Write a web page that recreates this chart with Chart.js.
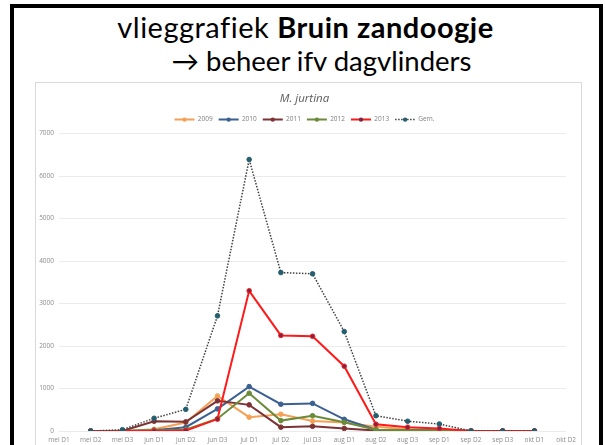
<!DOCTYPE html>
<html>
<head>
<meta charset="utf-8">
<script src="https://cdn.jsdelivr.net/npm/chart.js@4.4.0/dist/chart.umd.min.js"></script>
<style>
  body { margin: 0; background: #fff; width: 605px; height: 445px; overflow: hidden; position: relative; }
  .frame { position: absolute; left: 10px; top: 4px; width: 585px; height: 520px; border: 4px solid #000; border-bottom: none; }
  .line1, .line2 { position: absolute; left: 0; width: 605px; text-align: center; font-family: Lato, sans-serif; color: #000; white-space: nowrap; }
  .line1 { top: 10px; font-size: 29px; line-height: 34px; letter-spacing: 0.5px; padding-left: 3px; }
  .line2 { top: 44px; font-size: 27.5px; line-height: 34px; padding-left: 38px; width: 567px; }
  .box { position: absolute; left: 35px; top: 82px; width: 545px; height: 400px; border: 1px solid #d9d9d9; }
  #chart { position: absolute; left: 36px; top: 83px; }
</style>
</head>
<body>
<div class="frame"></div>
<div class="line1">vlieggrafiek <b>Bruin zandoogje</b></div>
<div class="line2">&rarr; beheer ifv dagvlinders</div>
<div class="box"></div>
<canvas id="chart" width="545" height="362"></canvas>
<script>
const periods = ['mei D1', 'mei D2', 'mei D3', 'jun D1', 'jun D2', 'jun D3', 'jul D1', 'jul D2', 'jul D3',
  'aug D1', 'aug D2', 'aug D3', 'sep D1', 'sep D2', 'sep D3', 'okt D1', 'okt D2'];
const y2009 = [null, 0, 0, 40, 200, 825, 325, 395, 235, 200, 100, 40, 30, 0, 0, 0, null];
const y2010 = [null, 0, 0, 20, 90, 520, 1045, 630, 650, 275, 30, 20, 10, 0, 0, 0, null];
const y2011 = [null, 0, 0, 230, 215, 710, 615, 90, 110, 60, 10, 10, 5, 0, 0, 0, null];
const y2012 = [null, 0, 0, 10, 30, 290, 890, 245, 360, 205, 30, 20, 10, 0, 0, 0, null];
const y2013 = [null, 0, 0, 0, 10, 280, 3300, 2250, 2230, 1525, 160, 90, 60, 0, 0, 0, null];
const gem = [null, 0, 30, 300, 510, 2710, 6390, 3730, 3700, 2340, 360, 230, 165, 0, 0, 0, null];
const yTicks = [0, 1000, 2000, 3000, 4000, 5000, 6000, 7000];

const tickFont = { family: 'Open Sans', size: 6.5 };

function series(label, data, color, dot, order) {
  return {
    label,
    data,
    borderColor: color,
    backgroundColor: color,
    pointBackgroundColor: dot,
    pointBorderColor: color,
    borderWidth: 2,
    pointRadius: 2.3,
    pointBorderWidth: 1,
    tension: 0,
    order,
  };
}

const gemSet = series('Gem.', gem, '#404040', '#255e6e', 0);
gemSet.borderWidth = 1.5;
gemSet.borderDash = [1.5, 1.5];
gemSet.pointBorderColor = '#255e6e';

const datasets = [
  series('2009', y2009, '#f6a055', '#f6a055', 5),
  series('2010', y2010, '#3b6091', '#3b6091', 4),
  series('2011', y2011, '#7d3234', '#7d3234', 3),
  series('2012', y2012, '#6a8b3a', '#6a8b3a', 2),
  series('2013', y2013, '#ff1a1a', '#7a2546', 1),
  gemSet,
];

// legend: fixed height, and a marker dot on each line
const legendTweak = {
  id: 'legendTweak',
  beforeInit(chart) {
    const legend = chart.legend;
    if (!legend) return;
    const fit = legend.fit;
    legend.fit = function () {
      fit.call(this);
      this.height = 23.25;
    };
  },
  afterDraw(chart) {
    const legend = chart.legend;
    if (!legend || !legend.legendHitBoxes) return;
    const ctx = chart.ctx;
    legend.legendHitBoxes.forEach((box, i) => {
      const ds = chart.data.datasets[legend.legendItems[i].datasetIndex];
      ctx.save();
      ctx.beginPath();
      ctx.arc(box.left + 10, box.top + tickFont.size / 2, 2.2, 0, Math.PI * 2);
      ctx.fillStyle = ds.pointBackgroundColor;
      ctx.fill();
      ctx.restore();
    });
  }
};

const defaultLabels = Chart.defaults.plugins.legend.labels.generateLabels;

new Chart(document.getElementById('chart'), {
  type: 'line',
  data: { labels: periods, datasets },
  plugins: [legendTweak],
  options: {
    responsive: false,
    animation: false,
    spanGaps: false,
    layout: { padding: { left: 0, right: 8, top: 0, bottom: 0 } },
    plugins: {
      title: {
        display: true,
        text: 'M. jurtina',
        color: '#595959',
        font: { family: 'Open Sans', size: 11.5, style: 'italic', weight: 'normal' },
        padding: { top: 9, bottom: 4.55 },
      },
      legend: {
        display: true,
        labels: {
          usePointStyle: true,
          pointStyle: 'line',
          pointStyleWidth: 20,
          boxWidth: 20,
          padding: 6,
          color: '#7f7f7f',
          font: tickFont,
          sort: (a, b) => a.datasetIndex - b.datasetIndex,
          generateLabels(chart) {
            return defaultLabels(chart).map((item) => {
              const ds = chart.data.datasets[item.datasetIndex];
              item.strokeStyle = ds.borderColor;
              item.lineWidth = ds.borderWidth;
              item.lineDash = ds.borderDash || [];
              return item;
            });
          },
        },
      },
      tooltip: { enabled: false },
    },
    scales: {
      x: {
        grid: { display: false, drawTicks: false },
        border: { display: false },
        ticks: { color: '#8c8c8c', font: tickFont, padding: 5, maxRotation: 0, autoSkip: false },
        afterFit(scale) { scale.height = 14; },
      },
      y: {
        min: 0,
        max: 7000,
        grid: { color: '#ebebeb', drawTicks: false },
        border: { display: false },
        ticks: { color: '#8c8c8c', font: tickFont, padding: 5, stepSize: 1000,
          callback: (v) => yTicks.includes(v) ? String(v) : '' },
        afterFit(scale) { scale.width = 23; },
      },
    },
  },
});
</script>
</body>
</html>
